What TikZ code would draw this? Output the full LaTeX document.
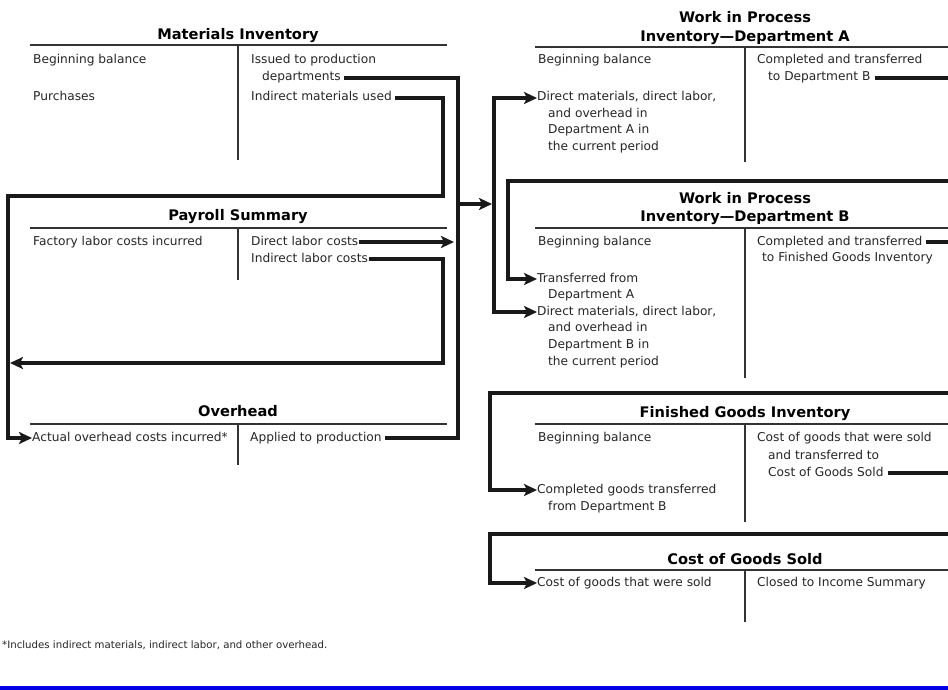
\documentclass[tikz,border=0pt]{standalone}
\usepackage{fontspec}
\setmainfont{DejaVu Sans}
\usetikzlibrary{arrows.meta}
\begin{document}
\begin{tikzpicture}[x=1pt,y=-1pt,
  txt/.style={anchor=west,inner sep=0pt,text height=9pt,text depth=3pt,font=\fontsize{12.2}{14}\selectfont,text=black!85},
  ttl/.style={anchor=center,inner sep=0pt,text height=10pt,text depth=3pt,font=\fontsize{14.6}{16}\selectfont\bfseries,text=black},
  tline/.style={line width=1.6pt,draw=black!80},
  conn/.style={line width=3.6pt,draw=black!90},
  tip/.style={-{Stealth[length=13pt,width=12pt,inset=3pt]}},
  arr/.style={conn,tip},
]
\useasboundingbox (0,0) rectangle (948,690);
\fill[white] (0,0) rectangle (948,690);

% ---------------- Materials Inventory
\node[ttl] (miT) at (238,36) {Materials Inventory};
\draw[tline] (30,45) -- (447,45);
\draw[tline] (238,45) -- (238,160);
\node[txt] (miBB) at (33,61) {Beginning balance};
\node[txt] (miPu) at (33,98) {Purchases};
\node[txt] (miIs) at (251,61) {Issued to production};
\node[txt] (miDe) at (262,78) {departments};
\node[txt] (miIm) at (251,98) {Indirect materials used};

% ---------------- Payroll Summary
\node[ttl] (psT) at (238,217) {Payroll Summary};
\draw[tline] (30,228) -- (447,228);
\draw[tline] (238,228) -- (238,280);
\node[txt] (psF) at (33,242) {Factory labor costs incurred};
\node[txt] (psD) at (251,242) {Direct labor costs};
\node[txt] (psI) at (251,259) {Indirect labor costs};

% ---------------- Overhead
\node[ttl] (ohT) at (238,413) {Overhead};
\draw[tline] (30,424) -- (447,424);
\draw[tline] (238,424) -- (238,465);
\node[txt] (ohA) at (32,438) {Actual overhead costs incurred*};
\node[txt] (ohP) at (250,438) {Applied to production};

% ---------------- WIP A
\node[ttl] (waT1) at (745,19) {Work in Process};
\node[ttl] (waT2) at (745,38) {Inventory—Department A};
\draw[tline] (535,47) -- (948,47);
\draw[tline] (745,47) -- (745,162);
\node[txt] (waBB) at (538,61) {Beginning balance};
\node[txt] (waDM) at (537,98) {Direct materials, direct labor,};
\node[txt] (waL2) at (548,115) {and overhead in};
\node[txt] (waL3) at (548,131) {Department A in};
\node[txt] (waL4) at (548,148) {the current period};
\node[txt] (waC1) at (757,61) {Completed and transferred};
\node[txt] (waC2) at (768,78) {to Department B};

% ---------------- WIP B
\node[ttl] (wbT1) at (745,200) {Work in Process};
\node[ttl] (wbT2) at (745,218) {Inventory—Department B};
\draw[tline] (535,228) -- (948,228);
\draw[tline] (745,228) -- (745,378);
\node[txt] (wbBB) at (538,242) {Beginning balance};
\node[txt] (wbTF) at (537,279) {Transferred from};
\node[txt] (wbL2) at (548,295) {Department A};
\node[txt] (wbDM) at (537,312) {Direct materials, direct labor,};
\node[txt] (wbL4) at (548,328) {and overhead in};
\node[txt] (wbL5) at (548,345) {Department B in};
\node[txt] (wbL6) at (548,362) {the current period};
\node[txt] (wbC1) at (757,242) {Completed and transferred};
\node[txt] (wbC2) at (762,258) {to Finished Goods Inventory};

% ---------------- Finished Goods
\node[ttl] (fgT) at (745,414) {Finished Goods Inventory};
\draw[tline] (535,424) -- (948,424);
\draw[tline] (745,424) -- (745,522);
\node[txt] (fgBB) at (538,438) {Beginning balance};
\node[txt] (fgCG) at (537,490) {Completed goods transferred};
\node[txt] (fgL2) at (548,507) {from Department B};
\node[txt] (fgS1) at (757,438) {Cost of goods that were sold};
\node[txt] (fgS2) at (768,456) {and transferred to};
\node[txt] (fgS3) at (768,473) {Cost of Goods Sold};

% ---------------- Cost of Goods Sold
\node[ttl] (csT) at (745,561) {Cost of Goods Sold};
\draw[tline] (535,570) -- (948,570);
\draw[tline] (745,570) -- (745,622);
\node[txt] (csC) at (537,583) {Cost of goods that were sold};
\node[txt] (csI) at (757,583) {Closed to Income Summary};

% ---------------- connectors
\coordinate (jx) at (458,204);
\coordinate (jt) at (492,204);
\coordinate (dv) at (494,204);
\coordinate (c1) at (443,196);
\coordinate (c2) at (8,438);
\coordinate (dlTip) at (454,242);
\coordinate (c3) at (443,363);
\coordinate (c4) at (10,363);
\coordinate (r1) at (954,181);
\coordinate (l1) at (508,279);
\coordinate (r2) at (954,393);
\coordinate (l2) at (490,490);
\coordinate (r3) at (954,534);
\coordinate (l3) at (490,583);

\draw[conn] ([xshift=3pt]miDe.east) -| (jx) |- ([xshift=3pt]ohP.east);
\draw[arr] (jx) -- (jt);
\draw[conn,{Stealth[length=13pt,width=12pt,inset=3pt]}-{Stealth[length=13pt,width=12pt,inset=3pt]}] (waDM.west) -| (dv) |- (wbDM.west);
\draw[arr] ([xshift=3pt]miIm.east) -| (c1) -| (c2) -- (ohA.west);
\draw[arr] ([xshift=1pt]psD.east) -- (dlTip);
\draw[arr] ([xshift=1pt]psI.east) -| (c3) -- (c4);
\draw[arr] ([xshift=4pt]waC2.east) -| (r1) -| (l1) -- (wbTF.west);
\draw[arr] ([xshift=3pt]wbC1.east) -| (r2) -| (l2) -- (fgCG.west);
\draw[arr] ([xshift=4pt]fgS3.east) -| (r3) -| (l3) -- (csC.west);

% ---------------- footnote and bar
\node[anchor=west,inner sep=0pt,font=\fontsize{10.2}{12}\selectfont,text=black!85] (fn) at (2,645) {*Includes indirect materials, indirect labor, and other overhead.};
\fill[blue!90!black] (0,686) rectangle (948,690);
\end{tikzpicture}
\end{document}
